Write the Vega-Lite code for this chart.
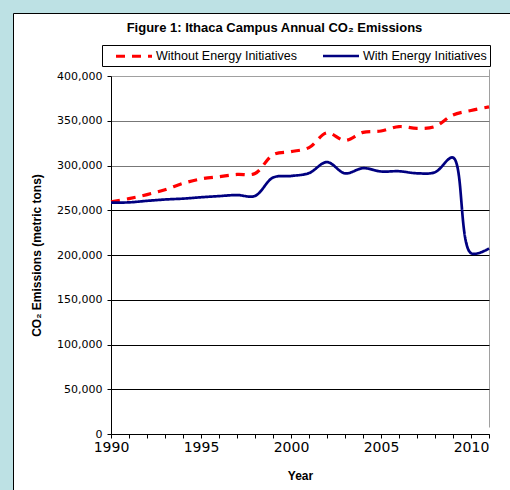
{
  "$schema": "https://vega.github.io/schema/vega-lite/v6.json",
  "width": 497,
  "height": 477,
  "autosize": {"type": "none"},
  "padding": {"left": 13, "top": 13, "right": 0, "bottom": 0},
  "background": "#bde1e4",
  "title": {
    "text": "Figure 1: Ithaca Campus Annual CO₂ Emissions",
    "font": "Liberation Sans",
    "fontSize": 13,
    "fontWeight": "bold",
    "color": "black",
    "anchor": "middle",
    "frame": "group",
    "dx": 13,
    "offset": -21.5
  },
  "data": {
    "values": [
      {"year": 1990, "series": "Without Energy Initiatives", "value": 259500},
      {"year": 1991, "series": "Without Energy Initiatives", "value": 263000},
      {"year": 1992, "series": "Without Energy Initiatives", "value": 267500},
      {"year": 1993, "series": "Without Energy Initiatives", "value": 273000},
      {"year": 1994, "series": "Without Energy Initiatives", "value": 280000},
      {"year": 1995, "series": "Without Energy Initiatives", "value": 285000},
      {"year": 1996, "series": "Without Energy Initiatives", "value": 287500},
      {"year": 1997, "series": "Without Energy Initiatives", "value": 290000},
      {"year": 1998, "series": "Without Energy Initiatives", "value": 291000},
      {"year": 1999, "series": "Without Energy Initiatives", "value": 312000},
      {"year": 2000, "series": "Without Energy Initiatives", "value": 315500},
      {"year": 2001, "series": "Without Energy Initiatives", "value": 320000},
      {"year": 2002, "series": "Without Energy Initiatives", "value": 336500},
      {"year": 2003, "series": "Without Energy Initiatives", "value": 328000},
      {"year": 2004, "series": "Without Energy Initiatives", "value": 337000},
      {"year": 2005, "series": "Without Energy Initiatives", "value": 338500},
      {"year": 2006, "series": "Without Energy Initiatives", "value": 343500},
      {"year": 2007, "series": "Without Energy Initiatives", "value": 341500},
      {"year": 2008, "series": "Without Energy Initiatives", "value": 343500},
      {"year": 2009, "series": "Without Energy Initiatives", "value": 356500},
      {"year": 2010, "series": "Without Energy Initiatives", "value": 361500},
      {"year": 2011, "series": "Without Energy Initiatives", "value": 365500},
      {"year": 1990, "series": "With Energy Initiatives", "value": 258500},
      {"year": 1991, "series": "With Energy Initiatives", "value": 258800},
      {"year": 1992, "series": "With Energy Initiatives", "value": 260500},
      {"year": 1993, "series": "With Energy Initiatives", "value": 262000},
      {"year": 1994, "series": "With Energy Initiatives", "value": 263000},
      {"year": 1995, "series": "With Energy Initiatives", "value": 264500},
      {"year": 1996, "series": "With Energy Initiatives", "value": 265800},
      {"year": 1997, "series": "With Energy Initiatives", "value": 267000},
      {"year": 1998, "series": "With Energy Initiatives", "value": 266000},
      {"year": 1999, "series": "With Energy Initiatives", "value": 286500},
      {"year": 2000, "series": "With Energy Initiatives", "value": 288300},
      {"year": 2001, "series": "With Energy Initiatives", "value": 291500},
      {"year": 2002, "series": "With Energy Initiatives", "value": 303800},
      {"year": 2003, "series": "With Energy Initiatives", "value": 291200},
      {"year": 2004, "series": "With Energy Initiatives", "value": 297000},
      {"year": 2005, "series": "With Energy Initiatives", "value": 293300},
      {"year": 2006, "series": "With Energy Initiatives", "value": 293600},
      {"year": 2007, "series": "With Energy Initiatives", "value": 291300},
      {"year": 2008, "series": "With Energy Initiatives", "value": 292500},
      {"year": 2009, "series": "With Energy Initiatives", "value": 308800},
      {"year": 2010, "series": "With Energy Initiatives", "value": 202000},
      {"year": 2011, "series": "With Energy Initiatives", "value": 207300}
    ]
  },
  "mark": {"type": "line", "interpolate": "catmull-rom", "strokeCap": "butt"},
  "encoding": {
    "x": {
      "field": "year",
      "type": "quantitative",
      "scale": {"domain": [1990, 2011], "nice": false, "zero": false, "range": [98, 476]},
      "axis": {
        "title": "Year",
        "offset": -56,
        "values": [1990, 1991, 1992, 1993, 1994, 1995, 1996, 1997, 1998, 1999, 2000, 2001, 2002, 2003, 2004, 2005, 2006, 2007, 2008, 2009, 2010, 2011],
        "format": "d",
        "labelExpr": "datum.value % 5 == 0 ? datum.label : ''",
        "grid": true,
        "gridColor": "#a0a0a0",
        "gridOpacity": {"condition": {"test": "datum.value == 2011", "value": 1}, "value": 0},
        "labelOverlap": false,
        "labelFlush": false,
        "tickSize": 4,
        "labelPadding": 2,
        "labelFont": "DejaVu Sans",
        "labelFontSize": 14,
        "titlePadding": 16
      }
    },
    "y": {
      "field": "value",
      "type": "quantitative",
      "scale": {"domain": [0, 400000], "nice": false, "range": [421, 63]},
      "axis": {
        "title": "CO₂ Emissions (metric tons)",
        "offset": -98,
        "values": [0, 50000, 100000, 150000, 200000, 250000, 300000, 350000, 400000],
        "format": ",d",
        "grid": true,
        "gridColor": {"condition": [{"test": "datum.value == 400000", "value": "#a0a0a0"}, {"test": "datum.value >= 300000", "value": "#777777"}], "value": "black"},
        "labelFlush": false,
        "labelOverlap": false,
        "tickSize": 4,
        "labelPadding": 5,
        "labelFont": "DejaVu Sans",
        "labelFontSize": 11,
        "titlePadding": 13
      }
    },
    "color": {
      "field": "series",
      "type": "nominal",
      "scale": {"domain": ["Without Energy Initiatives", "With Energy Initiatives"], "range": ["#ff0000", "#000080"]},
      "legend": {
        "title": null,
        "orient": "none",
        "legendX": 89,
        "legendY": 32,
        "direction": "horizontal",
        "columns": 2,
        "strokeColor": "black",
        "fillColor": "white",
        "padding": 3,
        "symbolType": "M-3,0H3",
        "symbolSize": 144,
        "symbolOffset": 21,
        "labelOffset": 14,
        "columnPadding": 14,
        "labelFont": "Liberation Sans",
        "labelFontSize": 12.5,
        "labelColor": "black",
        "symbolStrokeWidth": 3,
        "encode": {
          "symbols": {
            "update": {
              "strokeDash": {"signal": "datum.value === 'Without Energy Initiatives' ? [5, 11] : [1, 0]"},
              "strokeWidth": {"signal": "datum.value === 'Without Energy Initiatives' ? 3.5 : 2"}
            }
          }
        }
      }
    },
    "strokeDash": {
      "field": "series",
      "type": "nominal",
      "scale": {"domain": ["Without Energy Initiatives", "With Energy Initiatives"], "range": [[9, 7], [1, 0]]}
    },
    "strokeWidth": {
      "field": "series",
      "type": "nominal",
      "scale": {"domain": ["Without Energy Initiatives", "With Energy Initiatives"], "range": [3.2, 2.7]},
      "legend": null
    }
  },
  "config": {
    "view": {"stroke": "black", "strokeWidth": 1, "fill": "white"},
    "axis": {
      "domainColor": "black",
      "tickColor": "black",
      "labelColor": "black",
      "titleColor": "black",
      "titleFont": "Liberation Sans",
      "titleFontSize": 12,
      "titleFontWeight": "bold",
      "gridWidth": 1
    }
  }
}
